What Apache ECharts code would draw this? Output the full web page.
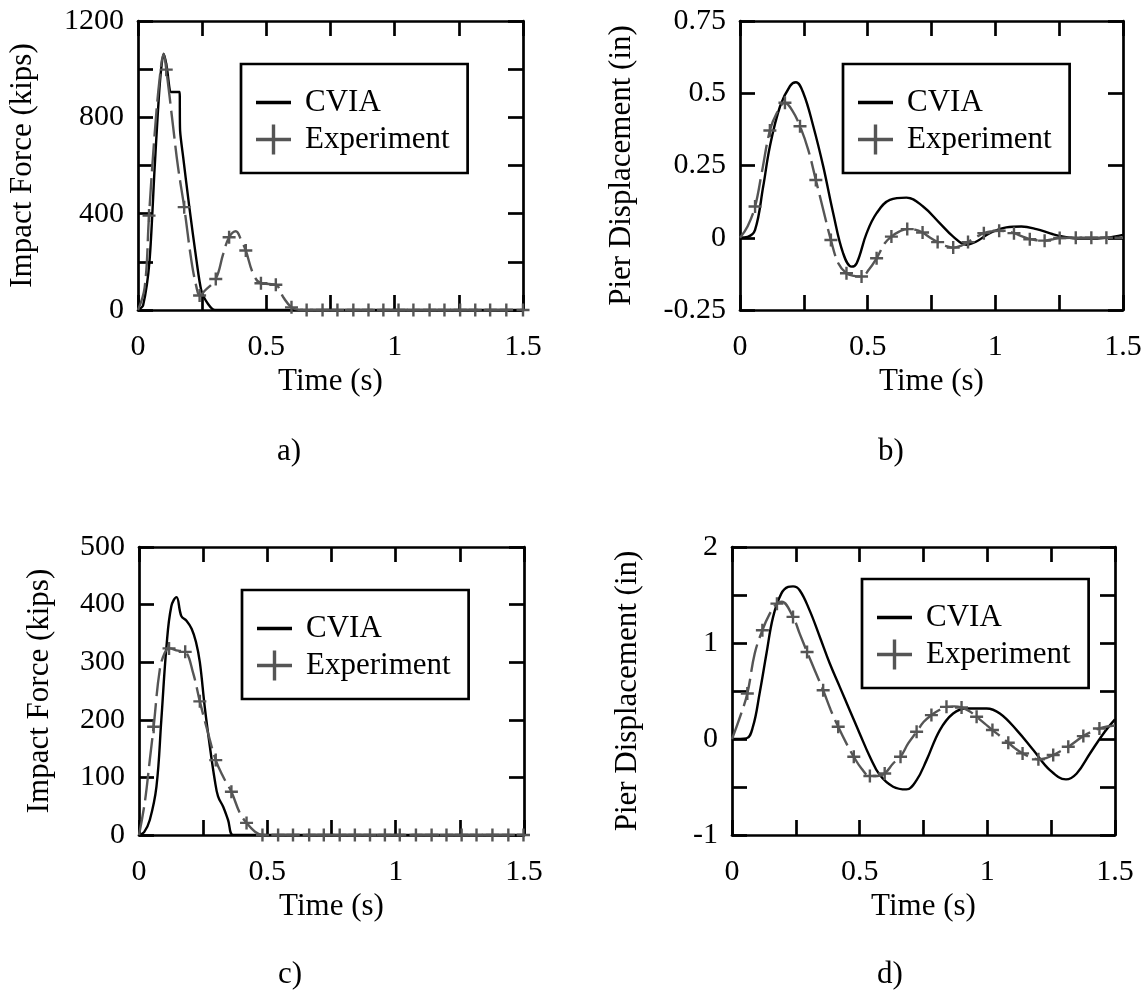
<!DOCTYPE html>
<html>
<head>
<meta charset="utf-8">
<script src="https://cdn.jsdelivr.net/npm/echarts@6/dist/echarts.min.js"></script>
<style>html,body{margin:0;padding:0;background:#fff}#c{width:1146px;height:993px}</style>
</head>
<body>
<div id="c"></div>
<script>
// ---------- tick labels ----------
const xTicks = [0, 0.5, 1, 1.5];
const yTicksA = [0, 400, 800, 1200];
const yTicksB = [-0.25, 0, 0.25, 0.5, 0.75];
const yTicksC = [0, 100, 200, 300, 400, 500];
const yTicksD = [-1, 0, 1, 2];

const seriesNames = ['CVIA', 'Experiment'];
const xName = 'Time (s)';
const yNameForce = 'Impact Force (kips)';
const yNameDisp = 'Pier Displacement (in)';
const captions = ['a)', 'b)', 'c)', 'd)'];

// ---------- panel a ----------
const cviaA_t = [0, 0.02, 0.045, 0.065, 0.085, 0.1, 0.112, 0.124, 0.13, 0.162, 0.164, 0.176, 0.2, 0.228, 0.247, 0.273, 0.3, 0.35, 1.5];
const cviaA_v = [0, 20, 205, 593, 940, 1064, 1010, 912, 905, 905, 745, 635, 427, 205, 80, 25, 0, 0, 0];
const expA_t = [0, 0.026, 0.043, 0.065, 0.085, 0.1, 0.11, 0.137, 0.156, 0.18, 0.208, 0.228, 0.24, 0.26, 0.303, 0.332, 0.355, 0.381, 0.403, 0.42, 0.449, 0.479, 0.51, 0.537, 0.566, 0.598, 0.63, 0.7, 1.5];
const expA_v = [0, 94, 392, 732, 967, 1062, 1000, 759, 593, 427, 205, 94, 60, 80, 129, 233, 302, 327, 288, 247, 150, 111, 108, 105, 53, 11, 0, 0, 0];
const mkA_t = [0.043, 0.11, 0.18, 0.24, 0.303, 0.355, 0.42, 0.479, 0.537, 0.598, 0.657, 0.719, 0.777, 0.839, 0.898, 0.956, 1.015, 1.073, 1.136, 1.194, 1.255, 1.314, 1.372, 1.435, 1.5];
const mkA_v = [392, 998, 427, 60, 129, 302, 247, 111, 105, 11, 0, 0, 0, 0, 0, 0, 0, 0, 0, 0, 0, 0, 0, 0, 0];

// ---------- panel b ----------
const cviaB_t = [0, 0.03, 0.059, 0.091, 0.117, 0.157, 0.196, 0.219, 0.248, 0.287, 0.326, 0.365, 0.404, 0.437, 0.457, 0.496, 0.535, 0.587, 0.652, 0.717, 0.783, 0.835, 0.887, 0.926, 0.978, 1.043, 1.102, 1.161, 1.226, 1.291, 1.357, 1.435, 1.5];
const cviaB_v = [0, 0.003, 0.027, 0.178, 0.316, 0.455, 0.525, 0.538, 0.501, 0.386, 0.247, 0.085, -0.054, -0.1, -0.088, 0.016, 0.085, 0.131, 0.139, 0.108, 0.05, 0.004, -0.024, -0.013, 0.016, 0.036, 0.039, 0.03, 0.012, 0.0, -0.003, 0, 0.01];
const expB_t = [0, 0.03, 0.059, 0.085, 0.117, 0.143, 0.176, 0.205, 0.235, 0.267, 0.297, 0.326, 0.356, 0.385, 0.417, 0.446, 0.476, 0.505, 0.535, 0.567, 0.593, 0.625, 0.655, 0.685, 0.715, 0.745, 0.774, 0.805, 0.835, 0.865, 0.893, 0.925, 0.955, 0.985, 1.015, 1.045, 1.073, 1.105, 1.135, 1.165, 1.193, 1.22, 1.252, 1.315, 1.376, 1.435, 1.5];
const expB_v = [0, 0.04, 0.108, 0.224, 0.371, 0.43, 0.467, 0.44, 0.386, 0.305, 0.2, 0.097, -0.008, -0.088, -0.123, -0.132, -0.134, -0.11, -0.071, -0.019, 0.004, 0.022, 0.03, 0.028, 0.018, 0.0, -0.015, -0.028, -0.034, -0.028, -0.015, 0.002, 0.016, 0.022, 0.024, 0.022, 0.016, 0.005, -0.005, -0.009, -0.01, -0.006, -0.001, 0, 0, 0, 0];
const mkB_t = [0.059, 0.117, 0.176, 0.235, 0.297, 0.356, 0.417, 0.476, 0.535, 0.593, 0.655, 0.715, 0.774, 0.835, 0.893, 0.955, 1.015, 1.073, 1.135, 1.193, 1.252, 1.315, 1.376, 1.435];
const mkB_v = [0.108, 0.371, 0.467, 0.386, 0.2, -0.008, -0.123, -0.134, -0.071, 0.004, 0.03, 0.018, -0.015, -0.034, -0.015, 0.016, 0.024, 0.016, -0.005, -0.01, -0.001, 0, 0, 0];

// ---------- panel c ----------
const cviaC_t = [0, 0.02, 0.042, 0.068, 0.087, 0.107, 0.126, 0.146, 0.165, 0.185, 0.205, 0.222, 0.237, 0.256, 0.276, 0.295, 0.308, 0.328, 0.347, 0.367, 0.42, 1.5];
const cviaC_v = [0, 5, 26, 84, 200, 327, 397, 413, 380, 372, 358, 335, 300, 223, 154, 96, 67, 49, 26, 0, 0, 0];
const expC_t = [0, 0.022, 0.042, 0.057, 0.081, 0.1, 0.117, 0.152, 0.18, 0.211, 0.237, 0.269, 0.299, 0.328, 0.36, 0.393, 0.419, 0.451, 0.481, 0.55, 1.5];
const expC_v = [0, 55, 130, 188, 287, 316, 324, 320, 318, 281, 232, 177, 130, 101, 75, 38, 21, 6, 0, 0, 0];
const mkC_t = [0.057, 0.117, 0.18, 0.237, 0.299, 0.36, 0.419, 0.481, 0.542, 0.6, 0.663, 0.72, 0.782, 0.841, 0.9, 0.958, 1.016, 1.079, 1.14, 1.198, 1.257, 1.315, 1.377, 1.439, 1.498];
const mkC_v = [188, 324, 318, 232, 130, 75, 21, 0, 0, 0, 0, 0, 0, 0, 0, 0, 0, 0, 0, 0, 0, 0, 0, 0, 0];

// ---------- panel d ----------
const cviaD_t = [0, 0.056, 0.082, 0.108, 0.135, 0.161, 0.193, 0.22, 0.239, 0.265, 0.304, 0.344, 0.383, 0.422, 0.461, 0.5, 0.54, 0.579, 0.631, 0.683, 0.723, 0.762, 0.814, 0.866, 0.919, 0.997, 1.049, 1.115, 1.18, 1.245, 1.308, 1.35, 1.402, 1.455, 1.5];
const cviaD_v = [0, 0.006, 0.128, 0.474, 0.89, 1.272, 1.514, 1.584, 1.59, 1.55, 1.34, 1.063, 0.786, 0.543, 0.3, 0.058, -0.185, -0.376, -0.497, -0.525, -0.428, -0.22, 0.093, 0.266, 0.318, 0.318, 0.266, 0.093, -0.115, -0.324, -0.421, -0.359, -0.151, 0.058, 0.204];
const expD_t = [0, 0.03, 0.06, 0.089, 0.119, 0.148, 0.176, 0.195, 0.239, 0.265, 0.294, 0.324, 0.357, 0.387, 0.416, 0.448, 0.477, 0.507, 0.54, 0.57, 0.598, 0.631, 0.66, 0.69, 0.723, 0.751, 0.781, 0.81, 0.84, 0.87, 0.899, 0.93, 0.958, 0.99, 1.02, 1.05, 1.082, 1.11, 1.138, 1.17, 1.2, 1.23, 1.258, 1.288, 1.317, 1.346, 1.376, 1.408, 1.439, 1.47, 1.5];
const expD_v = [0, 0.22, 0.474, 0.89, 1.133, 1.306, 1.41, 1.43, 1.272, 1.098, 0.907, 0.717, 0.508, 0.3, 0.127, -0.046, -0.185, -0.307, -0.386, -0.385, -0.359, -0.255, -0.185, -0.046, 0.075, 0.179, 0.249, 0.3, 0.335, 0.34, 0.328, 0.29, 0.231, 0.16, 0.093, 0.03, -0.039, -0.1, -0.15, -0.19, -0.212, -0.2, -0.167, -0.125, -0.081, -0.025, 0.03, 0.075, 0.11, 0.13, 0.14];
const mkD_t = [0.06, 0.119, 0.176, 0.239, 0.294, 0.357, 0.416, 0.477, 0.54, 0.598, 0.66, 0.723, 0.781, 0.84, 0.899, 0.958, 1.02, 1.082, 1.138, 1.2, 1.258, 1.317, 1.376, 1.439];
const mkD_v = [0.474, 1.133, 1.41, 1.272, 0.907, 0.508, 0.127, -0.185, -0.386, -0.359, -0.185, 0.075, 0.249, 0.335, 0.328, 0.231, 0.093, -0.039, -0.15, -0.212, -0.167, -0.081, 0.03, 0.11];

// ---------- layout / style ----------
const FONT = 'Liberation Serif';
const BLACK = '#000';
const GRAY = '#555';
const LW = 2.7;
const zip = (t, v) => t.map((x, i) => [x, v[i]]);

const panels = [
  { grid: {left: 138, top: 21, width: 385, height: 289}, yTicks: yTicksA, yMinor: 2, yName: yNameForce, yGap: 99.5,
    legend: {left: 241, top: 64}, cap: {left: 277, top: 436}, cviaSmooth: 0.25,
    cvia: zip(cviaA_t, cviaA_v), exp: zip(expA_t, expA_v), mk: zip(mkA_t, mkA_v) },
  { grid: {left: 740, top: 21, width: 383, height: 289}, yTicks: yTicksB, yMinor: 0, yName: yNameDisp, yGap: 102.5,
    legend: {left: 843, top: 64}, cap: {left: 878, top: 436}, cviaSmooth: 0.4,
    cvia: zip(cviaB_t, cviaB_v), exp: zip(expB_t, expB_v), mk: zip(mkB_t, mkB_v) },
  { grid: {left: 139, top: 547, width: 385, height: 288}, yTicks: yTicksC, yMinor: 0, yName: yNameForce, yGap: 83.5,
    legend: {left: 242, top: 590}, cap: {left: 278, top: 959}, cviaSmooth: 0.4,
    cvia: zip(cviaC_t, cviaC_v), exp: zip(expC_t, expC_v), mk: zip(mkC_t, mkC_v) },
  { grid: {left: 732, top: 547, width: 383, height: 288}, yTicks: yTicksD, yMinor: 2, yName: yNameDisp, yGap: 88.5,
    legend: {left: 862, top: 579}, cap: {left: 877, top: 959}, cviaSmooth: 0.4,
    cvia: zip(cviaD_t, cviaD_v), exp: zip(expD_t, expD_v), mk: zip(mkD_t, mkD_v) }
];

const lineIcon = 'path://M0,0H35V3.4H0Z';
const plusIcon = 'path://M0,13.3H35V16.7H0Z M15.8,0H19.2V30H15.8Z';
const plusMark = 'path://M0,5.3H13V7.7H0Z M5.3,0H7.7V13H5.3Z';

function axisBase(ticks, minorSplit, extra) {
  const o = {
    type: 'value',
    min: ticks[0],
    max: ticks[ticks.length - 1],
    interval: ticks[1] - ticks[0],
    axisLine: {show: true, onZero: false, lineStyle: {color: BLACK, width: LW}},
    axisTick: {show: true, inside: true, length: 15, lineStyle: {color: BLACK, width: LW}},
    minorTick: {show: minorSplit > 1, splitNumber: minorSplit || 2, length: 15, lineStyle: {color: BLACK, width: LW}},
    splitLine: {show: false},
    minorSplitLine: {show: false},
    nameMoveOverlap: false
  };
  return Object.assign(o, extra);
}
const plainNum = v => String(v);

const grid = [], xAxis = [], yAxis = [], series = [], legend = [], title = [];
panels.forEach((p, i) => {
  grid.push(Object.assign({containLabel: false, outerBoundsMode: 'none'}, p.grid));
  xAxis.push(axisBase(xTicks, 2, {
    gridIndex: i, position: 'bottom',
    axisLabel: {show: true, margin: 22, fontSize: 30, fontFamily: FONT, color: BLACK, showMinLabel: true, showMaxLabel: true, formatter: plainNum},
    name: xName, nameLocation: 'middle', nameGap: 56,
    nameTextStyle: {fontSize: 31, fontFamily: FONT, color: BLACK}
  }));
  xAxis.push(axisBase(xTicks, 2, {gridIndex: i, position: 'top', axisLabel: {show: false}}));
  yAxis.push(axisBase(p.yTicks, p.yMinor, {
    gridIndex: i, position: 'left',
    axisLabel: {show: true, margin: 14, fontSize: 30, fontFamily: FONT, color: BLACK, showMinLabel: true, showMaxLabel: true, formatter: plainNum},
    name: p.yName, nameLocation: 'middle', nameGap: p.yGap,
    nameTextStyle: {fontSize: 31, fontFamily: FONT, color: BLACK}
  }));
  yAxis.push(axisBase(p.yTicks, p.yMinor, {gridIndex: i, position: 'right', axisLabel: {show: false}}));

  series.push({
    type: 'line', name: seriesNames[0], xAxisIndex: 2 * i, yAxisIndex: 2 * i,
    data: p.cvia, symbol: 'none', showSymbol: false, smooth: p.cviaSmooth,
    lineStyle: {color: BLACK, width: 2.4}, itemStyle: {color: BLACK}, z: 3, silent: true
  });
  series.push({
    type: 'line', name: seriesNames[1], xAxisIndex: 2 * i, yAxisIndex: 2 * i,
    data: p.exp, symbol: 'none', showSymbol: false, smooth: 0.4,
    lineStyle: {color: GRAY, width: 2.4, type: [28, 7]}, itemStyle: {color: GRAY}, z: 4, silent: true
  });
  series.push({
    type: 'scatter', name: seriesNames[1], xAxisIndex: 2 * i, yAxisIndex: 2 * i,
    data: p.mk, symbol: plusMark, symbolSize: 13, itemStyle: {color: GRAY, opacity: 1}, z: 5, silent: true
  });

  legend.push({
    orient: 'vertical', left: p.legend.left, top: p.legend.top,
    data: [
      {name: seriesNames[0], icon: lineIcon, itemStyle: {color: BLACK}},
      {name: seriesNames[1], icon: plusIcon, itemStyle: {color: GRAY}}
    ],
    itemWidth: 35, itemHeight: 30, itemGap: 6,
    padding: [23, 18, 18, 15],
    borderColor: BLACK, borderWidth: LW, backgroundColor: '#fff',
    selectedMode: false,
    textStyle: {fontSize: 31, fontFamily: FONT, color: BLACK, padding: [0, 0, 0, 9]}
  });

  title.push({
    text: captions[i], left: p.cap.left, top: p.cap.top, padding: 0,
    textStyle: {fontSize: 31, fontFamily: FONT, color: BLACK, fontWeight: 'normal'}
  });
});

const chart = echarts.init(document.getElementById('c'), null, {renderer: 'canvas'});
chart.setOption({
  animation: false,
  backgroundColor: '#fff',
  title, grid, xAxis, yAxis, legend, series,
  tooltip: {show: false}
});
</script>
</body>
</html>
